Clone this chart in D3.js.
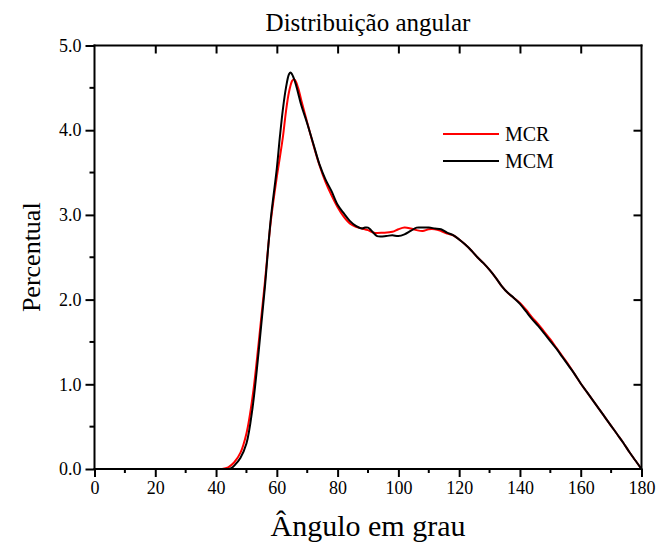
<!DOCTYPE html>
<html>
<head>
<meta charset="utf-8">
<script src="https://cdn.jsdelivr.net/npm/d3@7"></script>
<style>
  body { margin: 0; background: #fff; }
  text { font-family: "Liberation Serif", "Times New Roman", serif; fill: #000; }
</style>
</head>
<body>
<svg id="chart" width="659" height="549"></svg>
<script>
// ---- data ----
const mcrAngles = [42,44,46,48,50,52,54,56,58,60,61,62,63,64,65,65.5,66,67,68,70,72,74,76,78,80,82,84,86,88,90,92,95,98,100,102,104,106,108,110,112,114,116,118,120,122,124,126,128,130,132,134,136,138,140,142,144,146,148,150,152,154,156,158,160,162,164,166,168,170,172,174,176,178,180];
const mcrValues = [0,0.02,0.08,0.19,0.42,0.85,1.48,2.18,2.92,3.45,3.68,3.92,4.22,4.45,4.58,4.60,4.59,4.50,4.36,4.09,3.83,3.59,3.39,3.23,3.09,2.98,2.90,2.86,2.84,2.82,2.79,2.79,2.80,2.83,2.85,2.84,2.82,2.81,2.83,2.83,2.81,2.78,2.76,2.71,2.65,2.58,2.50,2.43,2.35,2.26,2.16,2.08,2.02,1.96,1.88,1.79,1.71,1.62,1.53,1.43,1.33,1.23,1.12,1.01,0.91,0.81,0.71,0.61,0.51,0.41,0.31,0.20,0.10,0.0];

const mcmAngles = [44,45,46,48,50,52,54,56,58,60,61,62,63,64,64.5,65,66,67,68,70,72,74,76,78,80,82,84,86,88,89,90,91,92,93,96,98,100,102,104,106,108,110,112,114,116,118,120,122,124,126,128,130,132,134,136,138,140,142,144,146,148,150,152,154,156,158,160,162,164,166,168,170,172,174,176,178,180];
const mcmValues = [0,0.01,0.04,0.13,0.30,0.72,1.38,2.12,2.95,3.55,3.92,4.25,4.50,4.66,4.68,4.66,4.57,4.44,4.30,4.08,3.84,3.60,3.42,3.28,3.12,3.02,2.93,2.87,2.84,2.85,2.85,2.82,2.78,2.75,2.75,2.76,2.75,2.77,2.81,2.85,2.85,2.85,2.84,2.83,2.79,2.76,2.71,2.65,2.58,2.50,2.43,2.35,2.26,2.16,2.08,2.02,1.95,1.86,1.77,1.69,1.60,1.51,1.42,1.32,1.22,1.12,1.01,0.91,0.81,0.71,0.61,0.51,0.41,0.31,0.20,0.10,0.0];

const xTicks = [0,20,40,60,80,100,120,140,160,180];
const yTicks = [0,1,2,3,4,5];
const seriesNames = ["MCR","MCM"];
const seriesColors = ["#ff0000","#000000"];
const titleText = "Distribuição angular";
const xLabel = "Ângulo em grau";
const yLabel = "Percentual";

// ---- layout ----
const W = 659, H = 549;
const m = {left: 94.5, right: 17.5, top: 45.5, bottom: 80};
const svg = d3.select("#chart");
const x = d3.scaleLinear().domain([0,180]).range([m.left, W - m.right]);
const y = d3.scaleLinear().domain([0,5]).range([H - m.bottom, m.top]);

const line = d3.line().x(d => x(d[0])).y(d => y(d[1])).curve(d3.curveCatmullRom.alpha(0.5));

const mcr = mcrAngles.map((a,i) => [a, mcrValues[i]]);
const mcm = mcmAngles.map((a,i) => [a, mcmValues[i]]);

svg.append("clipPath").attr("id","clip").append("rect")
  .attr("x", m.left).attr("y", m.top - 5).attr("width", W - m.left - m.right).attr("height", H - m.top - m.bottom + 5);

const plot = svg.append("g").attr("clip-path","url(#clip)");
plot.append("path").datum(mcr).attr("d", line).attr("fill","none")
  .attr("stroke", seriesColors[0]).attr("stroke-width", 2);
plot.append("path").datum(mcm).attr("d", line).attr("fill","none")
  .attr("stroke", seriesColors[1]).attr("stroke-width", 2);

// axes
const fontSize = "18px";
const xAxis = d3.axisBottom(x).tickValues(xTicks).tickFormat(d3.format("d")).tickSizeOuter(0).tickSize(8).tickPadding(4);
const gx = svg.append("g").attr("transform", `translate(0,${H - m.bottom})`).call(xAxis);
const yAxis = d3.axisLeft(y).tickValues(yTicks).tickFormat(d3.format(".1f")).tickSizeOuter(0).tickSize(9).tickPadding(4);
const gy = svg.append("g").attr("transform", `translate(${m.left},0)`).call(yAxis);
const gt = svg.append("g").attr("transform", `translate(0,${m.top})`)
  .call(d3.axisTop(x).tickValues(xTicks.slice(1,-1)).tickSizeOuter(0).tickSizeInner(-8).tickFormat(""));
const gr = svg.append("g").attr("transform", `translate(${W - m.right},0)`)
  .call(d3.axisRight(y).tickValues(yTicks.slice(1,-1)).tickSizeOuter(0).tickSizeInner(-8).tickFormat(""));

// minor ticks
const xMinor = d3.range(10, 180, 20);
const yMinor = d3.range(0.5, 5, 1);
gx.selectAll(".minor").data(xMinor).enter().append("line")
  .attr("x1", d => x(d)).attr("x2", d => x(d)).attr("y1", 0).attr("y2", 4);
gy.selectAll(".minor").data(yMinor).enter().append("line")
  .attr("y1", d => y(d)).attr("y2", d => y(d)).attr("x1", 0).attr("x2", -5);

[gx, gy, gt, gr].forEach(g => {
  g.attr("font-family", '"Liberation Serif", serif');
  g.select(".domain").attr("stroke", "#000").attr("stroke-width", 2);
  g.selectAll("line").attr("stroke", "#000").attr("stroke-width", 2);
  g.selectAll("text").style("font-size", fontSize).attr("fill", "#000")
    .style("font-family", '"Liberation Serif", serif');
});
gy.select(".domain").attr("d", `M0,${m.top - 1}V${H - m.bottom + 1}`);
gx.select(".domain").attr("d", `M${m.left - 1},0H${W - m.right + 1}`);
gr.select(".domain").attr("d", `M0,${m.top - 1}V${H - m.bottom + 1}`);
gt.select(".domain").attr("d", `M${m.left - 1},0H${W - m.right + 1}`);

// titles
svg.append("text").attr("x", (m.left + W - m.right)/2).attr("y", 31)
  .attr("text-anchor","middle").style("font-size","25px").text(titleText);
svg.append("text").attr("x", (m.left + W - m.right)/2).attr("y", 536)
  .attr("text-anchor","middle").style("font-size","30px").text(xLabel);
svg.append("text").attr("transform", `translate(40,${(m.top + H - m.bottom)/2}) rotate(-90)`)
  .attr("text-anchor","middle").style("font-size","26px").text(yLabel);

// legend
const leg = svg.append("g");
seriesNames.forEach((n, i) => {
  const ly = 134 + i * 27;
  leg.append("line").attr("x1", 443).attr("x2", 499).attr("y1", ly).attr("y2", ly)
    .attr("stroke", seriesColors[i]).attr("stroke-width", 2);
  leg.append("text").attr("x", 505).attr("y", ly + 7).style("font-size","20px").text(n);
});
</script>
</body>
</html>
